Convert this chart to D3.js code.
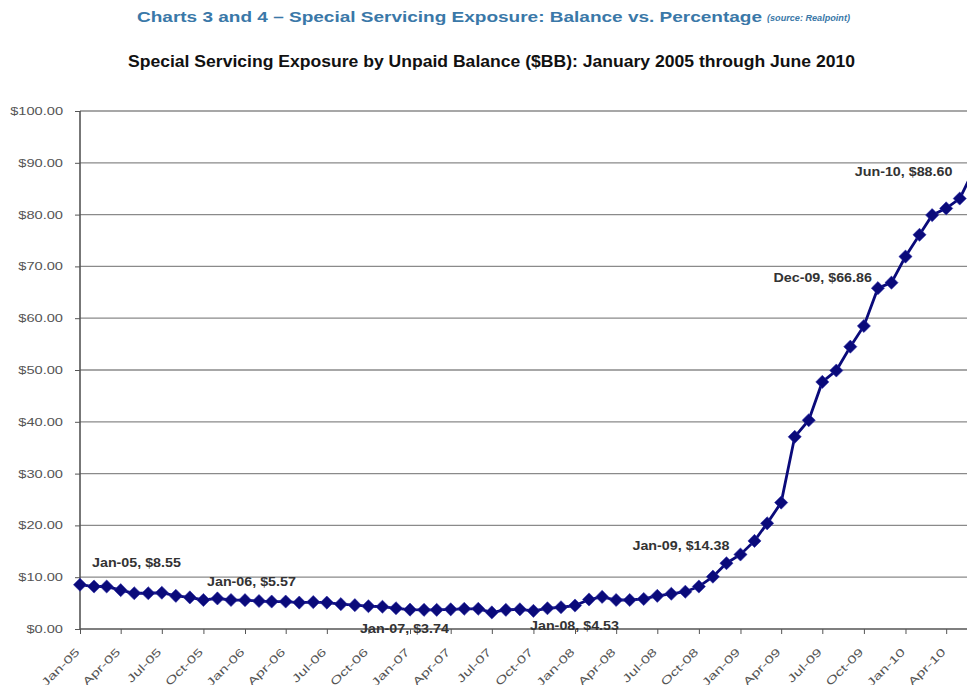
<!DOCTYPE html>
<html>
<head>
<meta charset="utf-8">
<script src="https://cdn.jsdelivr.net/npm/d3@7"></script>
<style>
  body { margin: 0; background: #fff; }
  svg { display: block; font-family: "Liberation Sans", Arial, sans-serif; }
  .grid line { stroke: #8a8a8a; stroke-width: 1.3; }
  .axis text { fill: #555; font-size: 11px; }
  .axis path, .axis line { stroke: #555; }
  .lbl { fill: #333; font-size: 12px; font-weight: bold; }
</style>
</head>
<body>
<div id="chart"></div>
<script>
// monthly balances, Jan-05 .. Jun-10 ($BB)
let months = d3.timeMonths(new Date(2005, 0, 1), new Date(2010, 6, 1));
let balance = [
    8.55, 8.2, 8.2, 7.5, 6.9, 6.9, 7.0, 6.4, 6.1, 5.6, 5.9, 5.6,
    5.57, 5.4, 5.3, 5.3, 5.1, 5.2, 5.1, 4.8, 4.6, 4.4, 4.3, 4.0,
    3.74, 3.7, 3.7, 3.8, 3.9, 3.9, 3.2, 3.7, 3.8, 3.5, 4.0, 4.2,
    4.53, 5.7, 6.2, 5.6, 5.6, 5.8, 6.4, 6.8, 7.2, 8.2, 10.1, 12.7,
    14.38, 17.0, 20.4, 24.4, 37.1, 40.3, 47.7, 49.9, 54.5, 58.5, 65.8, 66.86,
    71.9, 76.1, 79.9, 81.2, 83.1, 88.6
];
let yTicks = [0, 10, 20, 30, 40, 50, 60, 70, 80, 90, 100];

// point labels: [month index, text, x offset, y offset]
let callouts = [
    [0, 'Jan-05, $8.55', 12, -18],
    [12, 'Jan-06, $5.57', -38, -14],
    [24, 'Jan-07, $3.74', -50, 23],
    [36, 'Jan-08, $4.53', -45, 24],
    [48, 'Jan-09, $14.38', -108, -5],
    [59, 'Dec-09, $66.86', -118, -1],
    [65, 'Jun-10, $88.60', -119, 6]
];

let width = 967, height = 685;
let margin = {left: 80, top: 111};

// the source picture is a bit wider than tall, so text gets stretched sideways
function stretch(sel, sx) {
    sel.each(function() {
        let w = this.getComputedTextLength();
        d3.select(this)
            .attr('textLength', w * sx)
            .attr('lengthAdjust', 'spacingAndGlyphs');
    });
}

let svg = d3.select('#chart')
    .append('svg')
    .attr('width', width)
    .attr('height', height);

// titles
svg.append('text')
    .attr('x', 137).attr('y', 22)
    .attr('textLength', 625)
    .attr('lengthAdjust', 'spacingAndGlyphs')
    .style('fill', '#3a78a8')
    .style('font-weight', 'bold')
    .style('font-size', '15px')
    .text('Charts 3 and 4 \u2013 Special Servicing Exposure: Balance vs. Percentage');

svg.append('text')
    .attr('x', 767).attr('y', 21)
    .attr('textLength', 83)
    .attr('lengthAdjust', 'spacingAndGlyphs')
    .style('fill', '#3a78a8')
    .style('font-weight', 'bold')
    .style('font-style', 'italic')
    .style('font-size', '9.5px')
    .text('(source: Realpoint)');

svg.append('text')
    .attr('x', 128).attr('y', 67)
    .attr('textLength', 727)
    .attr('lengthAdjust', 'spacingAndGlyphs')
    .style('fill', '#111')
    .style('font-weight', 'bold')
    .style('font-size', '16.5px')
    .text('Special Servicing Exposure by Unpaid Balance ($BB): January 2005 through June 2010');

let x = d3.scaleTime()
    .domain([months[0], months[months.length - 1]])
    .range([margin.left, margin.left + 65 * 13.75]);

let y = d3.scaleLinear()
    .domain([0, 100])
    .range([629, margin.top]);

// horizontal gridlines
svg.append('g')
    .attr('class', 'grid')
    .selectAll('line')
    .data(yTicks.slice(1))
    .enter()
    .append('line')
    .attr('x1', margin.left).attr('x2', width)
    .attr('y1', d => y(d)).attr('y2', d => y(d));

// y axis
let yAxis = svg.append('g')
    .attr('class', 'axis')
    .attr('transform', 'translate(' + margin.left + ',0)')
    .call(d3.axisLeft(y)
        .tickValues(yTicks)
        .tickSize(5)
        .tickPadding(12)
        .tickFormat(d => '$' + d3.format('.2f')(d)));
yAxis.select('.domain').attr('d', 'M0,' + y(100) + 'V' + y(0)).style('stroke-width', 1.6);
stretch(yAxis.selectAll('text'), 1.33);

// x axis, tick every 3 months
let xTicks = months.filter((m, i) => i % 3 === 0);
let xAxis = svg.append('g')
    .attr('class', 'axis')
    .attr('transform', 'translate(0,' + y(0) + ')')
    .call(d3.axisBottom(x)
        .tickValues(xTicks)
        .tickSize(5)
        .tickSizeOuter(0)
        .tickFormat(d3.timeFormat('%b-%y')));
xAxis.select('.domain').attr('d', 'M' + margin.left + ',0H' + width).style('stroke-width', 1.6);
xAxis.selectAll('text')
    .attr('text-anchor', 'end')
    .attr('x', 0).attr('y', 0)
    .attr('dy', '0.35em')
    .attr('transform', 'translate(-3,21) rotate(-45)');
stretch(xAxis.selectAll('text'), 1.45);

// line and markers
let line = d3.line()
    .x((d, i) => x(months[i]))
    .y(d => y(d));

svg.append('path')
    .datum(balance)
    .attr('d', line)
    .attr('fill', 'none')
    .attr('stroke', '#0a0a7a')
    .attr('stroke-width', 2.8);

svg.append('g')
    .selectAll('path')
    .data(balance)
    .enter()
    .append('path')
    .attr('d', d3.symbol().type(d3.symbolDiamond2).size(110))
    .attr('transform', (d, i) => 'translate(' + x(months[i]) + ',' + y(d) + ')')
    .attr('fill', '#0a0a7a')
    .attr('stroke', '#2a2aa8')
    .attr('stroke-width', 0.6);

// callout labels
let labels = svg.append('g')
    .selectAll('text')
    .data(callouts)
    .enter()
    .append('text')
    .attr('class', 'lbl')
    .attr('x', d => x(months[d[0]]) + d[2])
    .attr('y', d => y(balance[d[0]]) + d[3])
    .text(d => d[1]);
stretch(labels, 1.19);
</script>
</body>
</html>
